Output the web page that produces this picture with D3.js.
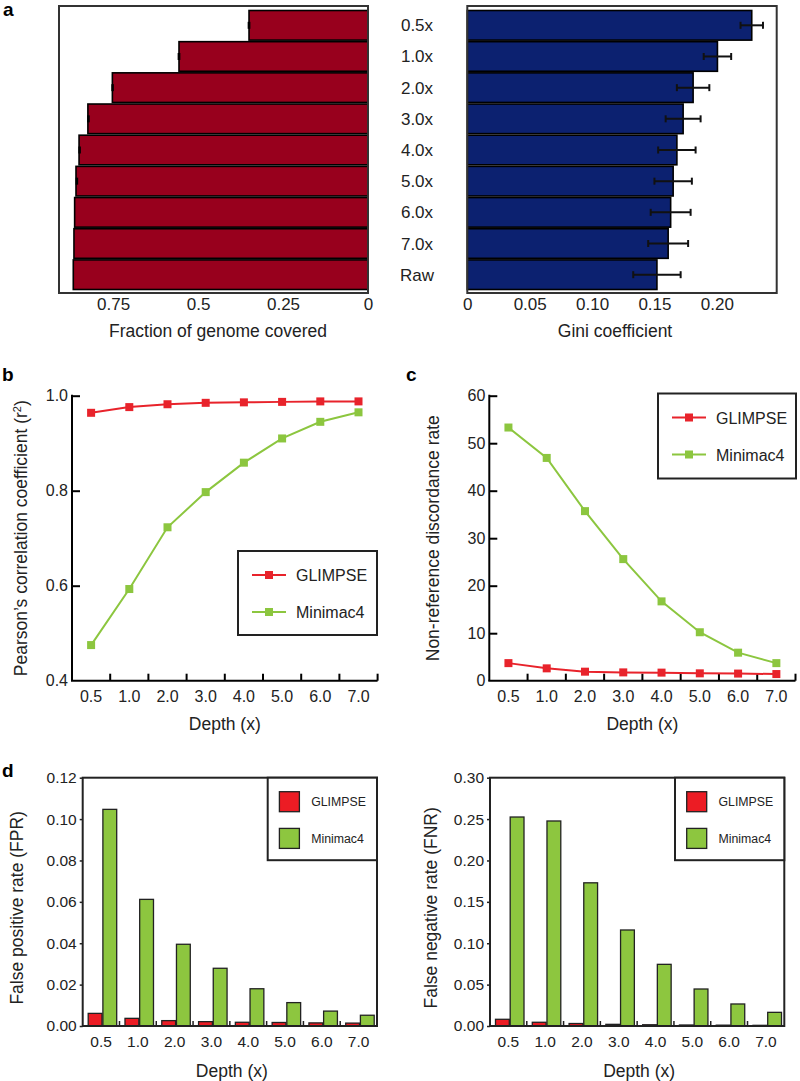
<!DOCTYPE html>
<html><head><meta charset="utf-8">
<script src="https://cdn.jsdelivr.net/npm/d3@7"></script>
<style>
body{margin:0;background:#fff;}
svg{display:block;font-family:"Liberation Sans",Arial,sans-serif;}
</style></head><body>
<svg id="chart" width="800" height="1081"></svg>
<script>
// ---------- data ----------
const depthLabels = ["0.5x","1.0x","2.0x","3.0x","4.0x","5.0x","6.0x","7.0x","Raw"];
const coverage    = [0.350,0.556,0.752,0.824,0.850,0.859,0.863,0.865,0.867];
const coverageErr = [0.004,0.004,0.003,0.002,0.002,0.001,0.000,0.000,0.000];
const gini        = [0.228,0.2005,0.181,0.173,0.168,0.165,0.163,0.161,0.152];
const giniErr     = [0.009,0.011,0.013,0.014,0.015,0.015,0.016,0.016,0.019];
const coverageTicks = [0,0.25,0.5,0.75];
const giniTicks     = [0,0.05,0.10,0.15,0.20];

const depths = ["0.5","1.0","2.0","3.0","4.0","5.0","6.0","7.0"];
const methods = ["GLIMPSE","Minimac4"];
const glimpseR2  = [0.964,0.976,0.982,0.985,0.986,0.987,0.988,0.988];
const minimacR2  = [0.475,0.593,0.723,0.797,0.859,0.910,0.945,0.965];
const glimpseNRD = [3.7,2.6,1.9,1.75,1.7,1.55,1.5,1.4];
const minimacNRD = [53.3,46.9,35.7,25.6,16.7,10.2,5.9,3.7];
const glimpseFPR = [0.0061,0.0037,0.0026,0.0021,0.0018,0.0017,0.0015,0.0014];
const minimacFPR = [0.1047,0.0612,0.0395,0.0279,0.0180,0.0113,0.0072,0.0052];
const glimpseFNR = [0.0081,0.0045,0.0030,0.0020,0.0015,0.0012,0.0010,0.0008];
const minimacFNR = [0.2525,0.2477,0.1730,0.1160,0.0745,0.0447,0.0266,0.0165];
const r2Ticks  = [0.4,0.6,0.8,1.0];
const nrdTicks = [0,10,20,30,40,50,60];
const fprTicks = [0,0.02,0.04,0.06,0.08,0.10,0.12];
const fnrTicks = [0,0.05,0.10,0.15,0.20,0.25,0.30];

// ---------- styles ----------
const RED_LINE = "#e8232b", GREEN_LINE = "#8cc63f";
const RED_BAR = "#ec1c24", GREEN_BAR = "#8dc63f";
const DARKRED = "#98001d", NAVY = "#0c2170";
const svg = d3.select("#chart");

function panelLabel(t,x,y){
  svg.append("text").attr("x",x).attr("y",y).attr("font-weight","bold")
    .attr("font-size",19).text(t);
}
function styleText(s,size){
  s.selectAll("text").attr("font-size",size).attr("fill","#222").attr("font-family","Liberation Sans, Arial");
}

// ================= Panel a =================
panelLabel("a",3,16);
const aTop=6, aBot=293;
const yA = d3.scaleBand().domain(depthLabels).range([10.5,289.5]).paddingInner(0.05);

// left
const xL = d3.scaleLinear().domain([0,0.909]).range([368,59]);
const gL = svg.append("g");
gL.selectAll("rect.bar").data(depthLabels).join("rect")
  .attr("x",(d,i)=>xL(coverage[i])).attr("y",d=>yA(d))
  .attr("width",(d,i)=>xL(0)-xL(coverage[i])).attr("height",yA.bandwidth())
  .attr("fill",DARKRED).attr("stroke","#000").attr("stroke-width",1.6);
depthLabels.forEach((d,i)=>{
  if(coverageErr[i]<=0) return;
  const cy=yA(d)+yA.bandwidth()/2;
  gL.append("rect").attr("x",xL(coverage[i]+coverageErr[i])).attr("y",cy-3.5)
    .attr("width",Math.max(2.5,xL(coverage[i]-coverageErr[i])-xL(coverage[i]+coverageErr[i])))
    .attr("height",7).attr("fill","#000");
});
gL.append("rect").attr("x",59).attr("y",aTop).attr("width",368-59).attr("height",aBot-aTop)
  .attr("fill","none").attr("stroke","#333").attr("stroke-width",2);
const axL = d3.axisBottom(xL).tickValues(coverageTicks).tickSize(0).tickPadding(5)
  .tickFormat(d=>d===0?"0":String(d));
gL.append("g").attr("transform",`translate(0,${aBot})`).call(axL)
  .call(g=>g.select(".domain").remove())
  .call(g=>styleText(g,17));
svg.append("text").attr("x",218).attr("y",337).attr("text-anchor","middle")
  .attr("font-size",17.5).attr("fill","#222").text("Fraction of genome covered");

// category labels
svg.selectAll("text.cat").data(depthLabels).join("text").attr("class","cat")
  .attr("x",417).attr("y",d=>yA(d)+yA.bandwidth()/2+6).attr("text-anchor","middle")
  .attr("font-size",17).attr("fill","#222").text(d=>d);

// right
const xR = d3.scaleLinear().domain([0,0.248]).range([467.3,776.7]);
const gR = svg.append("g");
gR.selectAll("rect.bar").data(depthLabels).join("rect")
  .attr("x",xR(0)).attr("y",d=>yA(d))
  .attr("width",(d,i)=>xR(gini[i])-xR(0)).attr("height",yA.bandwidth())
  .attr("fill",NAVY).attr("stroke","#000").attr("stroke-width",1.6);
depthLabels.forEach((d,i)=>{
  const cy=yA(d)+yA.bandwidth()/2, x1=xR(gini[i]-giniErr[i]), x2=xR(gini[i]+giniErr[i]);
  gR.append("line").attr("x1",x1).attr("x2",x2).attr("y1",cy).attr("y2",cy).attr("stroke","#111").attr("stroke-width",2);
  [x1,x2].forEach(x=>gR.append("line").attr("x1",x).attr("x2",x).attr("y1",cy-3.5).attr("y2",cy+3.5).attr("stroke","#111").attr("stroke-width",2));
});
gR.append("rect").attr("x",467.3).attr("y",aTop).attr("width",776.7-467.3).attr("height",aBot-aTop)
  .attr("fill","none").attr("stroke","#333").attr("stroke-width",2);
const axR = d3.axisBottom(xR).tickValues(giniTicks).tickSize(0).tickPadding(5)
  .tickFormat(d=>d===0?"0":d3.format(".2f")(d));
gR.append("g").attr("transform",`translate(0,${aBot})`).call(axR)
  .call(g=>g.select(".domain").remove())
  .call(g=>styleText(g,17));
svg.append("text").attr("x",615).attr("y",337).attr("text-anchor","middle")
  .attr("font-size",17.5).attr("fill","#222").text("Gini coefficient");

// ================= Line panels b,c =================
function linePanel(opts){
  const {x0,x1,yTop,yBot,domain,ticks,fmt,series,ylabel,ylabelX,legend} = opts;
  const x = d3.scaleBand().domain(depths).range([x0,x1]);
  const y = d3.scaleLinear().domain(domain).range([yBot,yTop]);
  const g = svg.append("g");
  // y axis (ticks pointing inward)
  const ay = d3.axisLeft(y).tickValues(ticks).tickSizeInner(-8).tickSizeOuter(0).tickPadding(4).tickFormat(fmt);
  g.append("g").attr("transform",`translate(${x0},0)`).call(ay)
    .call(s=>s.select(".domain").attr("stroke","#000").attr("stroke-width",2).attr("d",`M0,${yTop-1}V${yBot}`))
    .call(s=>s.selectAll(".tick line").attr("stroke","#000").attr("stroke-width",2))
    .call(s=>s.selectAll(".tick").filter(d=>d===domain[0]).select("line").remove())
    .call(s=>s.selectAll("text").attr("x",-4))
    .call(s=>styleText(s,16));
  // x axis
  g.append("line").attr("x1",x0-1).attr("x2",x1).attr("y1",yBot).attr("y2",yBot).attr("stroke","#000").attr("stroke-width",2);
  depths.forEach(d=>{
    const bx=x(d)+x.bandwidth();
    g.append("line").attr("x1",bx).attr("x2",bx).attr("y1",yBot).attr("y2",yBot-7).attr("stroke","#000").attr("stroke-width",2);
  });
  const ax = d3.axisBottom(x).tickSize(0).tickPadding(10);
  g.append("g").attr("transform",`translate(0,${yBot})`).call(ax)
    .call(s=>s.select(".domain").remove())
    .call(s=>styleText(s,16));
  g.append("text").attr("x",(x0+x1)/2).attr("y",yBot+49).attr("text-anchor","middle")
    .attr("font-size",17.5).attr("fill","#222").text("Depth (x)");
  // y label
  g.append("text").attr("transform",`translate(${ylabelX},${(yTop+yBot)/2}) rotate(-90)`)
    .attr("text-anchor","middle").attr("font-size",17.5).attr("fill","#222").html(ylabel);
  // series
  series.forEach(s=>{
    const line = d3.line().x((v,i)=>x(depths[i])+x.bandwidth()/2).y(v=>y(v));
    g.append("path").attr("d",line(s.values)).attr("fill","none").attr("stroke",s.color).attr("stroke-width",2);
    g.selectAll(null).data(s.values).join("rect")
      .attr("x",(v,i)=>x(depths[i])+x.bandwidth()/2-4).attr("y",v=>y(v)-4)
      .attr("width",8).attr("height",8).attr("fill",s.color);
  });
  // legend
  const L = legend;
  g.append("rect").attr("x",L.x).attr("y",L.y).attr("width",L.w).attr("height",L.h)
    .attr("fill","#fff").attr("stroke","#222").attr("stroke-width",2);
  series.forEach((s,i)=>{
    const ly = L.y + L.first + i*L.gap;
    g.append("line").attr("x1",L.x+L.lx).attr("x2",L.x+L.lx+34).attr("y1",ly).attr("y2",ly).attr("stroke",s.color).attr("stroke-width",2);
    g.append("rect").attr("x",L.x+L.lx+13).attr("y",ly-4).attr("width",8).attr("height",8).attr("fill",s.color);
    g.append("text").attr("x",L.x+L.lx+44).attr("y",ly+6).attr("font-size",16).attr("fill","#222").text(s.name);
  });
}

panelLabel("b",2,381);
linePanel({x0:72,x1:377.6,yTop:395.7,yBot:680.7,domain:[0.4,1.0],ticks:r2Ticks,fmt:d3.format(".1f"),
  series:[{name:methods[0],values:glimpseR2,color:RED_LINE},{name:methods[1],values:minimacR2,color:GREEN_LINE}],
  ylabel:"Pearson’s correlation coefficient (r<tspan dy='-6' font-size='11'>2</tspan><tspan dy='6'>)</tspan>",ylabelX:27,
  legend:{x:238,y:551,w:139,h:84,first:24,gap:37,lx:14}});

panelLabel("c",406,381);
linePanel({x0:489.3,x1:795.5,yTop:395.7,yBot:680.7,domain:[0,60],ticks:nrdTicks,fmt:d3.format("d"),
  series:[{name:methods[0],values:glimpseNRD,color:RED_LINE},{name:methods[1],values:minimacNRD,color:GREEN_LINE}],
  ylabel:"Non-reference discordance rate",ylabelX:439,
  legend:{x:658,y:393.5,w:138,h:85,first:24,gap:37,lx:14}});

// ================= Bar panels d =================
function barPanel(opts){
  const {x0,x1,yTop,yBot,domain,ticks,gl,mm,ylabel,ylabelX,legendX} = opts;
  const x = d3.scaleBand().domain(depths).range([x0,x1]);
  const xs = d3.scaleBand().domain(methods).range([5.5,34]).paddingInner(0.06);
  const y = d3.scaleLinear().domain(domain).range([yBot,yTop]);
  const g = svg.append("g");
  const vals = {GLIMPSE:gl, Minimac4:mm};
  const colors = {GLIMPSE:RED_BAR, Minimac4:GREEN_BAR};
  methods.forEach(m=>{
    g.selectAll(null).data(vals[m]).join("rect")
      .attr("x",(v,i)=>x(depths[i])+xs(m)).attr("y",v=>y(v))
      .attr("width",xs.bandwidth()).attr("height",v=>yBot-y(v))
      .attr("fill",colors[m]).attr("stroke","#222").attr("stroke-width",1.3);
  });
  // bottom inner ticks
  depths.forEach((d,i)=>{
    if(i===depths.length-1) return;
    const bx=x(d)+x.bandwidth();
    g.append("line").attr("x1",bx).attr("x2",bx).attr("y1",yBot).attr("y2",yBot-5).attr("stroke","#222").attr("stroke-width",1.5);
  });
  g.append("rect").attr("x",x0).attr("y",yTop).attr("width",x1-x0).attr("height",yBot-yTop)
    .attr("fill","none").attr("stroke","#222").attr("stroke-width",2);
  const ay = d3.axisLeft(y).tickValues(ticks).tickSize(3).tickPadding(3).tickFormat(d3.format(".2f"));
  g.append("g").attr("transform",`translate(${x0},0)`).call(ay)
    .call(s=>s.select(".domain").remove())
    .call(s=>s.selectAll(".tick line").attr("stroke","#222").attr("stroke-width",1.5))
    .call(s=>styleText(s,15.5));
  const ax = d3.axisBottom(x).tickSize(0).tickPadding(10);
  g.append("g").attr("transform",`translate(0,${yBot})`).call(ax)
    .call(s=>s.select(".domain").remove())
    .call(s=>styleText(s,15.5));
  g.append("text").attr("x",(x0+x1)/2+2).attr("y",yBot+51).attr("text-anchor","middle")
    .attr("font-size",17.5).attr("fill","#222").text("Depth (x)");
  g.append("text").attr("transform",`translate(${ylabelX},${(yTop+yBot)/2+6}) rotate(-90)`)
    .attr("text-anchor","middle").attr("font-size",17.5).attr("fill","#222").text(ylabel);
  // legend
  const lw = x1-legendX;
  g.append("rect").attr("x",legendX).attr("y",yTop).attr("width",lw).attr("height",82.5)
    .attr("fill","#fff").attr("stroke","#222").attr("stroke-width",2);
  methods.forEach((m,i)=>{
    const ly = yTop + 14 + i*36.7;
    g.append("rect").attr("x",legendX+11.7).attr("y",ly).attr("width",20).attr("height",20)
      .attr("fill",colors[m]).attr("stroke","#222").attr("stroke-width",1.3);
    g.append("text").attr("x",legendX+43.5).attr("y",ly+14.5).attr("font-size",12.3).attr("fill","#222").text(m);
  });
}

panelLabel("d",2,777);
barPanel({x0:82.7,x1:377,yTop:777.7,yBot:1026,domain:[0,0.12],ticks:fprTicks,gl:glimpseFPR,mm:minimacFPR,
  ylabel:"False positive rate (FPR)",ylabelX:23,legendX:267.7});
barPanel({x0:490,x1:784.3,yTop:777.7,yBot:1026,domain:[0,0.30],ticks:fnrTicks,gl:glimpseFNR,mm:minimacFNR,
  ylabel:"False negative rate (FNR)",ylabelX:437,legendX:675});
</script>
</body></html>
